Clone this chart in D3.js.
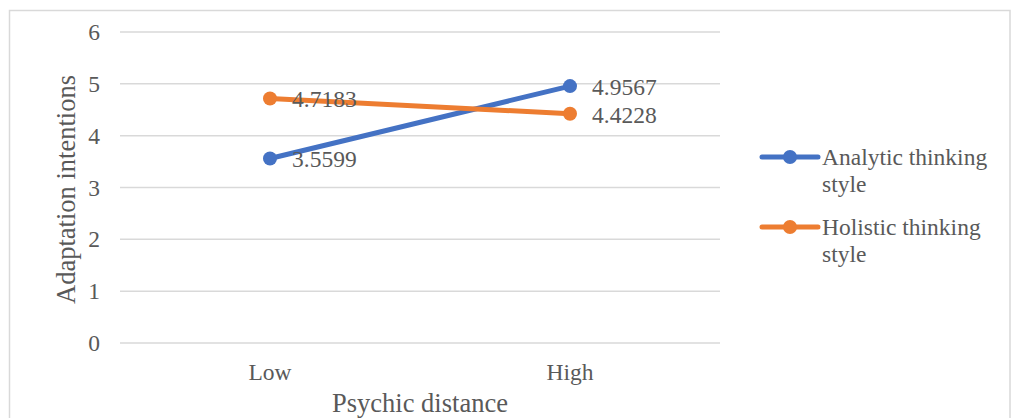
<!DOCTYPE html>
<html>
<head>
<meta charset="utf-8">
<script src="https://cdn.jsdelivr.net/npm/d3@7"></script>
<style>
  body { margin: 0; background: #fff; }
  text { font-family: "Liberation Serif", "Times New Roman", serif; fill: #595959; }
</style>
</head>
<body>
<div id="chart"></div>
<script>
const width = 1011
const height = 418
const margin = {top: 32, right: 291, bottom: 75, left: 120}

const categories = ["Low", "High"]
const analytic = [3.5599, 4.9567]
const holistic = [4.7183, 4.4228]
const yTicks = [0, 1, 2, 3, 4, 5, 6]

const series = [
  {name: "Analytic thinking", name2: "style", values: analytic, color: "#4472C4"},
  {name: "Holistic thinking", name2: "style", values: holistic, color: "#ED7D31"}
]

const svg = d3.select("div#chart").append("svg").attr("width", width).attr("height", height)

// borde del grafico
svg.append("rect").attr("x", 9.5).attr("y", 10.5)
  .attr("width", width - 10.5).attr("height", height)
  .attr("fill", "none").attr("stroke", "#d9d9d9").attr("stroke-width", 1.5)

const innerW = width - margin.left - margin.right
const innerH = 343 - margin.top

const x = d3.scaleBand().domain(categories).range([0, innerW])
const y = d3.scaleLinear().domain([0, 6]).range([innerH, 0])

const g = svg.append("g").attr("transform", `translate(${margin.left}, ${margin.top})`)

// grid
g.selectAll("line.grid").data(yTicks).enter().append("line")
  .attr("class", "grid")
  .attr("x1", 0).attr("x2", innerW)
  .attr("y1", d => y(d)).attr("y2", d => y(d))
  .attr("stroke", "#d9d9d9").attr("stroke-width", 1.5)

const yAxis = d3.axisLeft(y).tickValues(yTicks).tickFormat(d3.format("d")).tickSize(0).tickPadding(20)
const yAxisGroup = g.append("g").attr("font-family", null).call(yAxis)
yAxisGroup.select(".domain").remove()
yAxisGroup.selectAll("text").attr("font-size", 23.5).attr("font-family", "Liberation Serif").attr("fill", "#595959")

const xAxis = d3.axisBottom(x).tickSize(0).tickPadding(20)
const xAxisGroup = g.append("g").attr("transform", `translate(0, ${innerH})`).call(xAxis)
xAxisGroup.select(".domain").remove()
xAxisGroup.selectAll("text").attr("font-size", 23.5).attr("font-family", "Liberation Serif").attr("fill", "#595959")

// titulos de ejes
svg.append("text").text("Psychic distance")
  .attr("x", margin.left + innerW / 2).attr("y", 412)
  .attr("text-anchor", "middle").attr("font-size", 26.5)

svg.append("text").text("Adaptation intentions")
  .attr("transform", `translate(75, ${margin.top + innerH / 2 + 2}) rotate(-90)`)
  .attr("text-anchor", "middle").attr("font-size", 26.5)

const line = d3.line()
  .x((d, i) => x(categories[i]) + x.bandwidth() / 2)
  .y(d => y(d))

series.forEach(s => {
  g.append("path").datum(s.values)
    .attr("d", line)
    .attr("fill", "none").attr("stroke", s.color).attr("stroke-width", 5)
    .attr("stroke-linecap", "round")
  g.selectAll(null).data(s.values).enter().append("circle")
    .attr("cx", (d, i) => x(categories[i]) + x.bandwidth() / 2)
    .attr("cy", d => y(d))
    .attr("r", 7).attr("fill", s.color)
  g.selectAll(null).data(s.values).enter().append("text")
    .attr("x", (d, i) => x(categories[i]) + x.bandwidth() / 2 + 22)
    .attr("y", d => y(d) + 9)
    .attr("font-size", 23.5)
    .text(d => d.toFixed(4))
})

// leyenda
const legend = svg.append("g").attr("transform", "translate(762, 157)")
series.forEach((s, i) => {
  const lg = legend.append("g").attr("transform", `translate(0, ${i * 70})`)
  lg.append("line").attr("x1", 0).attr("x2", 56).attr("y1", 0).attr("y2", 0)
    .attr("stroke", s.color).attr("stroke-width", 5).attr("stroke-linecap", "round")
  lg.append("circle").attr("cx", 28).attr("cy", 0).attr("r", 7).attr("fill", s.color)
  lg.append("text").attr("x", 60).attr("y", 8).attr("font-size", 23.5).text(s.name)
  lg.append("text").attr("x", 60).attr("y", 35).attr("font-size", 23.5).text(s.name2)
})
</script>
</body>
</html>
